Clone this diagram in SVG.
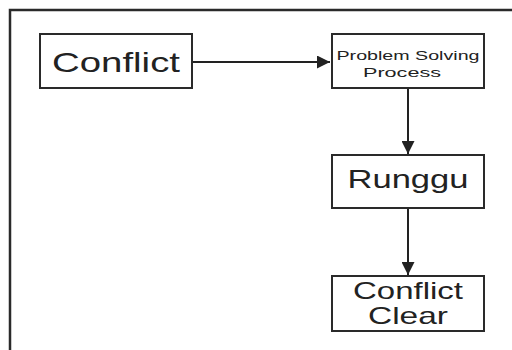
<svg xmlns="http://www.w3.org/2000/svg" width="512" height="350" viewBox="0 0 512 350">
<style>
.box{fill:#fff;stroke:#2a2a2a;stroke-width:2}
.t{font-family:"Liberation Sans",Arial,sans-serif;fill:#222;text-anchor:middle}
.c{stroke:#222;stroke-width:2;fill:none}
</style>
<defs>
<marker id="ah" viewBox="0 0 10 10" refX="10" refY="5" markerWidth="6.5" markerHeight="6.5" markerUnits="strokeWidth" orient="auto">
<path d="M0,0 L10,5 L0,10 Z" fill="#222"/>
</marker>
</defs>
<rect width="512" height="350" fill="#fff"/>
<path d="M10,351 L10,10 L513,10" fill="none" stroke="#2a2a2a" stroke-width="2.5"/>
<g id="connectors">
<line class="c" x1="193" y1="62" x2="330" y2="62" marker-end="url(#ah)"/>
<line class="c" x1="408" y1="89" x2="408" y2="154" marker-end="url(#ah)"/>
<line class="c" x1="408" y1="209" x2="408" y2="275" marker-end="url(#ah)"/>
</g>
<g id="conflict">
<rect class="box" x="40" y="34" width="152" height="54"/>
<text class="t" x="116" y="72" font-size="28" textLength="128" lengthAdjust="spacingAndGlyphs">Conflict</text>
</g>
<g id="problem-solving">
<rect class="box" x="332" y="34" width="152" height="54"/>
<text class="t" x="408" y="60" font-size="13.5" textLength="143" lengthAdjust="spacingAndGlyphs">Problem Solving</text>
<text class="t" x="402" y="77" font-size="13.5" textLength="78" lengthAdjust="spacingAndGlyphs">Process</text>
</g>
<g id="runggu">
<rect class="box" x="332" y="155" width="152" height="53"/>
<text class="t" x="408" y="188" font-size="25" textLength="121" lengthAdjust="spacingAndGlyphs">Runggu</text>
</g>
<g id="conflict-clear">
<rect class="box" x="332" y="276" width="152" height="55"/>
<text class="t" x="408" y="299" font-size="24" textLength="110" lengthAdjust="spacingAndGlyphs">Conflict</text>
<text class="t" x="408" y="324" font-size="24" textLength="80" lengthAdjust="spacingAndGlyphs">Clear</text>
</g>
</svg>
